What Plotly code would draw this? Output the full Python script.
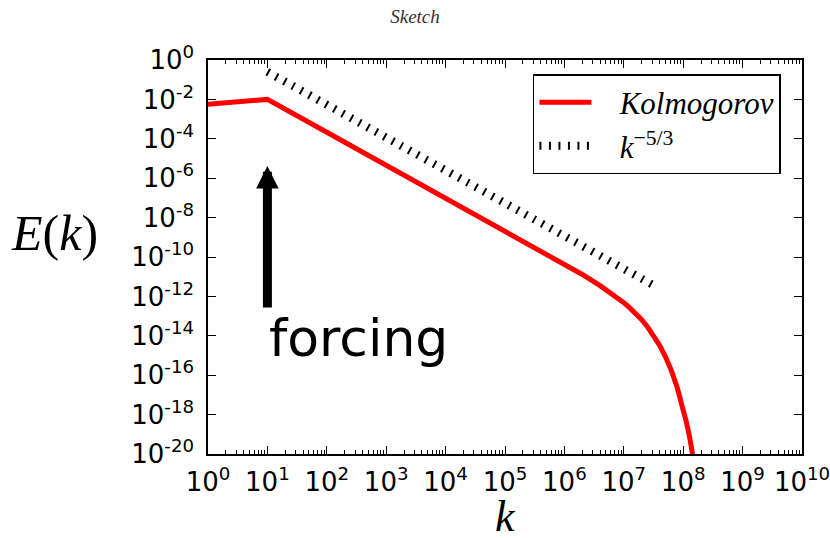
import plotly.graph_objects as go

# Data
k_kol = [1e0, 1e1, 1e2, 1e3, 1e4, 1e5, 1e6, 2.0e6, 3.98e6, 6.31e6, 1e7, 1.26e7, 1.58e7,
         2.0e7, 2.51e7, 3.16e7, 3.98e7, 5.01e7, 6.31e7, 7.94e7, 1e8, 1.12e8, 1.26e8,
         1.41e8, 1.58e8]
E_kol = [5.6e-3, 1e-2, 2.15e-4, 4.6e-6, 1e-7, 2.15e-9, 4.4e-11, 1.3e-11, 3.5e-12, 1.4e-12,
         4.8e-13, 2.6e-13, 1.35e-13, 6.5e-14, 2.8e-14, 1.07e-14, 3.4e-15, 8.9e-16,
         1.74e-16, 2.3e-17, 2.0e-18, 4.7e-19, 9.3e-20, 1.5e-20, 2.0e-21]

k_ref = [1e1, 3.16e7]
E_ref = [2.5e-1, 3.7e-12]

x_tick_exp = list(range(0, 11))
y_tick_exp = list(range(0, -21, -2))

serif = "Liberation Serif"
sans = "DejaVu Sans"
nb = "\u00a0"

fig = go.Figure()
fig.add_trace(go.Scatter(
    x=k_kol, y=E_kol, mode="lines", name=nb * 3 + "<i>Kolmogorov</i>",
    line=dict(color="#ff0000", width=5), legendgroup="a",
))
fig.add_trace(go.Scatter(
    x=k_ref, y=E_ref, mode="lines", name=nb * 3 + "<i>k</i><sup>\u22125/3</sup>",
    line=dict(color="black", width=8, dash="2px,7.5px"), legendgroup="b",
))

minor_vals = [m * 10 ** e for e in range(0, 10) for m in range(2, 10)]

fig.update_xaxes(
    type="log", range=[0, 10], automargin=False,
    tickmode="array",
    tickvals=[10 ** e for e in x_tick_exp],
    ticktext=[f"10<sup>{e}</sup>" for e in x_tick_exp],
    ticks="inside", ticklen=8, tickwidth=1, tickcolor="black",
    minor=dict(ticks="inside", ticklen=4, tickwidth=1, tickcolor="black",
               tickmode="array", tickvals=minor_vals, showgrid=False),
    showline=True, linecolor="black", linewidth=1.5, mirror="allticks",
    showgrid=False, zeroline=False,
    ticklabelstandoff=4, ticklabeloverflow="allow",
    tickfont=dict(family=sans, size=26, color="black"),
)
fig.update_yaxes(
    type="log", range=[-20, 0], automargin=False,
    tickmode="array",
    tickvals=[10.0 ** e for e in y_tick_exp],
    ticktext=[f"10<sup>{e}</sup>" for e in y_tick_exp],
    ticks="inside", ticklen=8, tickwidth=1, tickcolor="black",
    showline=True, linecolor="black", linewidth=1.5, mirror="allticks",
    showgrid=False, zeroline=False,
    ticklabelstandoff=7, ticklabeloverflow="allow",
    tickfont=dict(family=sans, size=26, color="black"),
)

fig.add_annotation(
    x=1, y=-5.38, ax=1, ay=-12.64, xref="x", yref="y", axref="x", ayref="y",
    text="", showarrow=True, arrowhead=2, arrowsize=0.5, arrowwidth=9,
    arrowcolor="black",
)
fig.add_annotation(
    x=1.0, y=-14.1, xref="x", yref="y", text="forcing", showarrow=False,
    xanchor="left", yanchor="middle",
    font=dict(family=sans, size=52, color="black"),
)
fig.add_annotation(
    x=-0.259, y=0.561, xref="paper", yref="paper",
    text="<i>E</i>(<i>k</i>)", showarrow=False,
    xanchor="center", yanchor="middle",
    font=dict(family=serif, size=50, color="black"),
)
fig.add_annotation(
    x=0.5, y=-0.158, xref="paper", yref="paper",
    text="<i>k</i>", showarrow=False,
    xanchor="center", yanchor="middle",
    font=dict(family=serif, size=44, color="black"),
)

fig.update_layout(
    width=830, height=538,
    margin=dict(l=208, r=28, t=60, b=84, autoexpand=False),
    paper_bgcolor="white", plot_bgcolor="white",
    title=dict(text="<i>Sketch</i>", x=0.5, xanchor="center", y=0.97, yanchor="middle",
               font=dict(family=serif, size=19, color="#333333"), automargin=False),
    legend=dict(
        x=0.547, y=0.964, xanchor="left", yanchor="top",
        bgcolor="white", bordercolor="black", borderwidth=1.5,
        font=dict(family=serif, size=31, color="black"),
        itemwidth=52, tracegroupgap=0,
    ),
    showlegend=True,
)

fig.write_html("out.html")
